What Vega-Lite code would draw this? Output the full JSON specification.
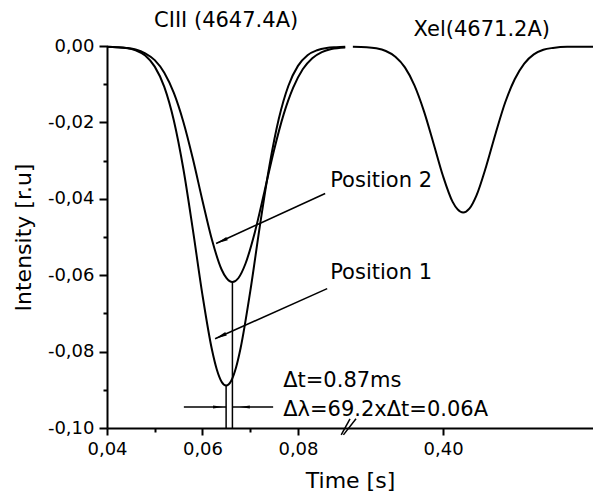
{
  "$schema": "https://vega.github.io/schema/vega-lite/v6.json",
  "width": 486,
  "height": 382,
  "autosize": {"type": "none"},
  "padding": {"left": 107, "top": 46, "right": 0, "bottom": 68},
  "config": {
    "view": {"stroke": null},
    "font": "DejaVu Sans",
    "axis": {"grid": false, "domainColor": "black", "domainWidth": 2, "tickColor": "black", "tickWidth": 2, "labelColor": "black", "titleColor": "black", "labelFont": "DejaVu Sans", "titleFont": "DejaVu Sans", "labelFontSize": 18, "titleFontSize": 22, "titleFontWeight": "normal", "labelOverlap": false, "labelFlush": false, "labelBound": false}
  },
  "datasets": {
    "curves": [
      {"series": "Position 1", "t": 0.040, "v": -0.0002},
      {"series": "Position 1", "t": 0.042, "v": -0.0003},
      {"series": "Position 1", "t": 0.044, "v": -0.0005},
      {"series": "Position 1", "t": 0.046, "v": -0.0011},
      {"series": "Position 1", "t": 0.048, "v": -0.0025},
      {"series": "Position 1", "t": 0.050, "v": -0.0054},
      {"series": "Position 1", "t": 0.052, "v": -0.0107},
      {"series": "Position 1", "t": 0.054, "v": -0.0195},
      {"series": "Position 1", "t": 0.056, "v": -0.0322},
      {"series": "Position 1", "t": 0.058, "v": -0.0482},
      {"series": "Position 1", "t": 0.060, "v": -0.0652},
      {"series": "Position 1", "t": 0.062, "v": -0.0796},
      {"series": "Position 1", "t": 0.063, "v": -0.0847},
      {"series": "Position 1", "t": 0.064, "v": -0.0879},
      {"series": "Position 1", "t": 0.06495, "v": -0.0889},
      {"series": "Position 1", "t": 0.066, "v": -0.0877},
      {"series": "Position 1", "t": 0.067, "v": -0.0843},
      {"series": "Position 1", "t": 0.068, "v": -0.0790},
      {"series": "Position 1", "t": 0.070, "v": -0.0643},
      {"series": "Position 1", "t": 0.072, "v": -0.0473},
      {"series": "Position 1", "t": 0.074, "v": -0.0315},
      {"series": "Position 1", "t": 0.076, "v": -0.0190},
      {"series": "Position 1", "t": 0.078, "v": -0.0104},
      {"series": "Position 1", "t": 0.080, "v": -0.0052},
      {"series": "Position 1", "t": 0.082, "v": -0.0024},
      {"series": "Position 1", "t": 0.084, "v": -0.0011},
      {"series": "Position 1", "t": 0.086, "v": -0.0005},
      {"series": "Position 1", "t": 0.088, "v": -0.0003},
      {"series": "Position 1", "t": 0.0899, "v": -0.0002},
      {"series": "Position 2", "t": 0.040, "v": -0.0002},
      {"series": "Position 2", "t": 0.042, "v": -0.0003},
      {"series": "Position 2", "t": 0.044, "v": -0.0005},
      {"series": "Position 2", "t": 0.046, "v": -0.0009},
      {"series": "Position 2", "t": 0.048, "v": -0.0019},
      {"series": "Position 2", "t": 0.050, "v": -0.0037},
      {"series": "Position 2", "t": 0.052, "v": -0.0070},
      {"series": "Position 2", "t": 0.054, "v": -0.0123},
      {"series": "Position 2", "t": 0.056, "v": -0.0199},
      {"series": "Position 2", "t": 0.058, "v": -0.0296},
      {"series": "Position 2", "t": 0.060, "v": -0.0405},
      {"series": "Position 2", "t": 0.062, "v": -0.0508},
      {"series": "Position 2", "t": 0.064, "v": -0.0585},
      {"series": "Position 2", "t": 0.065, "v": -0.0607},
      {"series": "Position 2", "t": 0.06627, "v": -0.0618},
      {"series": "Position 2", "t": 0.0675, "v": -0.0608},
      {"series": "Position 2", "t": 0.069, "v": -0.0570},
      {"series": "Position 2", "t": 0.071, "v": -0.0486},
      {"series": "Position 2", "t": 0.073, "v": -0.0380},
      {"series": "Position 2", "t": 0.075, "v": -0.0272},
      {"series": "Position 2", "t": 0.077, "v": -0.0179},
      {"series": "Position 2", "t": 0.079, "v": -0.0109},
      {"series": "Position 2", "t": 0.081, "v": -0.0061},
      {"series": "Position 2", "t": 0.083, "v": -0.0032},
      {"series": "Position 2", "t": 0.085, "v": -0.0016},
      {"series": "Position 2", "t": 0.087, "v": -0.0008},
      {"series": "Position 2", "t": 0.0899, "v": -0.0004},
      {"series": "XeI", "t": 0.3811, "v": -0.0002},
      {"series": "XeI", "t": 0.384, "v": -0.0003},
      {"series": "XeI", "t": 0.386, "v": -0.0006},
      {"series": "XeI", "t": 0.388, "v": -0.0013},
      {"series": "XeI", "t": 0.390, "v": -0.0028},
      {"series": "XeI", "t": 0.392, "v": -0.0056},
      {"series": "XeI", "t": 0.394, "v": -0.0103},
      {"series": "XeI", "t": 0.396, "v": -0.0171},
      {"series": "XeI", "t": 0.398, "v": -0.0255},
      {"series": "XeI", "t": 0.400, "v": -0.0341},
      {"series": "XeI", "t": 0.402, "v": -0.0408},
      {"series": "XeI", "t": 0.403, "v": -0.0427},
      {"series": "XeI", "t": 0.4042, "v": -0.0436},
      {"series": "XeI", "t": 0.4055, "v": -0.0426},
      {"series": "XeI", "t": 0.407, "v": -0.0391},
      {"series": "XeI", "t": 0.409, "v": -0.0316},
      {"series": "XeI", "t": 0.411, "v": -0.0229},
      {"series": "XeI", "t": 0.413, "v": -0.0148},
      {"series": "XeI", "t": 0.415, "v": -0.0087},
      {"series": "XeI", "t": 0.417, "v": -0.0046},
      {"series": "XeI", "t": 0.419, "v": -0.0022},
      {"series": "XeI", "t": 0.421, "v": -0.0010},
      {"series": "XeI", "t": 0.423, "v": -0.0005},
      {"series": "XeI", "t": 0.426, "v": -0.0002},
      {"series": "XeI", "t": 0.4314, "v": -0.0002}
    ],
    "segments": [
      {"name": "dt left", "t": 0.0561, "t2": 0.06495, "v": -0.0945, "v2": -0.0945},
      {"name": "dt right", "t": 0.06627, "t2": 0.0748, "v": -0.0945, "v2": -0.0945},
      {"name": "pos2 arrow", "t": 0.0857, "t2": 0.06285, "v": -0.0386, "v2": -0.0517},
      {"name": "pos1 arrow", "t": 0.08612, "t2": 0.06264, "v": -0.0635, "v2": -0.07664},
      {"name": "pos1 drop", "t": 0.06495, "t2": 0.06495, "v": -0.0889, "v2": -0.1},
      {"name": "pos2 drop", "t": 0.06627, "t2": 0.06627, "v": -0.0618, "v2": -0.1},
      {"name": "break 1", "t": 0.08906, "t2": 0.0909, "v": -0.1018, "v2": -0.0976},
      {"name": "break 2", "t": 0.08952, "t2": 0.38176, "v": -0.1018, "v2": -0.0976}
    ],
    "headsRight": [{"t": 0.06327, "v": -0.0945}],
    "headsLeft": [{"t": 0.06887, "v": -0.0945}],
    "headsDiag": [{"t": 0.0640, "v": -0.05105}, {"t": 0.06379, "v": -0.07598}],
    "titles": [
      {"label": "CIII (4647.4A)", "t": 0.06495, "v": 0.0066},
      {"label": "Xel(4671.2A)", "t": 0.4081, "v": 0.0042}
    ],
    "notes": [
      {"label": "Position 2", "t": 0.08675, "v": -0.0354},
      {"label": "Position 1", "t": 0.08675, "v": -0.0594},
      {"label": "Δt=0.87ms", "t": 0.0769, "v": -0.0877},
      {"label": "Δλ=69.2xΔt=0.06A", "t": 0.0769, "v": -0.0952}
    ]
  },
  "encoding": {
    "x": {
      "field": "t", "type": "quantitative",
      "scale": {"domain": [0.04, 0.0909, 0.3805, 0.4314], "range": [0, 243, 243, 486], "nice": false, "zero": false},
      "axis": {
        "title": "Time [s]",
        "values": [0.04, 0.05, 0.06, 0.07, 0.08, 0.4],
        "labelExpr": "(datum.value == 0.05 || datum.value == 0.07) ? '' : replace(format(datum.value, '.2f'), '.', ',')",
        "tickSize": {"condition": {"test": "datum.value == 0.05 || datum.value == 0.07", "value": 4}, "value": 7},
        "labelPadding": 5,
        "titlePadding": 12
      }
    },
    "y": {
      "field": "v", "type": "quantitative",
      "scale": {"domain": [-0.1, 0], "nice": false, "zero": false},
      "axis": {
        "title": "Intensity [r.u]",
        "values": [0, -0.01, -0.02, -0.03, -0.04, -0.05, -0.06, -0.07, -0.08, -0.09, -0.1],
        "labelExpr": "abs(round(datum.value * 100)) % 2 == 1 ? '' : replace(replace(format(datum.value, '.2f'), '.', ','), '−', '-')",
        "tickSize": {"condition": {"test": "abs(round(datum.value * 100)) % 2 == 1", "value": 4}, "value": 8},
        "labelPadding": 5,
        "titlePadding": 12
      }
    }
  },
  "layer": [
    {
      "data": {"name": "curves"},
      "mark": {"type": "line", "color": "black", "strokeWidth": 2, "interpolate": "monotone"},
      "encoding": {"detail": {"field": "series"}}
    },
    {
      "data": {"name": "segments"},
      "mark": {"type": "rule", "color": "black", "strokeWidth": 1.5},
      "encoding": {"x2": {"field": "t2"}, "y2": {"field": "v2"}}
    },
    {
      "data": {"name": "headsRight"},
      "mark": {"type": "point", "shape": "M-1,-0.3L1,0L-1,0.3Z", "filled": true, "color": "black", "opacity": 1, "size": 100, "angle": 0},
      "encoding": {}
    },
    {
      "data": {"name": "headsLeft"},
      "mark": {"type": "point", "shape": "M-1,-0.3L1,0L-1,0.3Z", "filled": true, "color": "black", "opacity": 1, "size": 100, "angle": 180},
      "encoding": {}
    },
    {
      "data": {"name": "headsDiag"},
      "mark": {"type": "point", "shape": "M-1,-0.3L1,0L-1,0.3Z", "filled": true, "color": "black", "opacity": 1, "size": 144, "angle": 155.5},
      "encoding": {}
    },
    {
      "data": {"name": "titles"},
      "mark": {"type": "text", "font": "DejaVu Sans", "fontSize": 21, "align": "center", "baseline": "middle", "color": "black"},
      "encoding": {"text": {"field": "label"}}
    },
    {
      "data": {"name": "notes"},
      "mark": {"type": "text", "font": "DejaVu Sans", "fontSize": 21, "align": "left", "baseline": "middle", "color": "black"},
      "encoding": {"text": {"field": "label"}}
    }
  ]
}
